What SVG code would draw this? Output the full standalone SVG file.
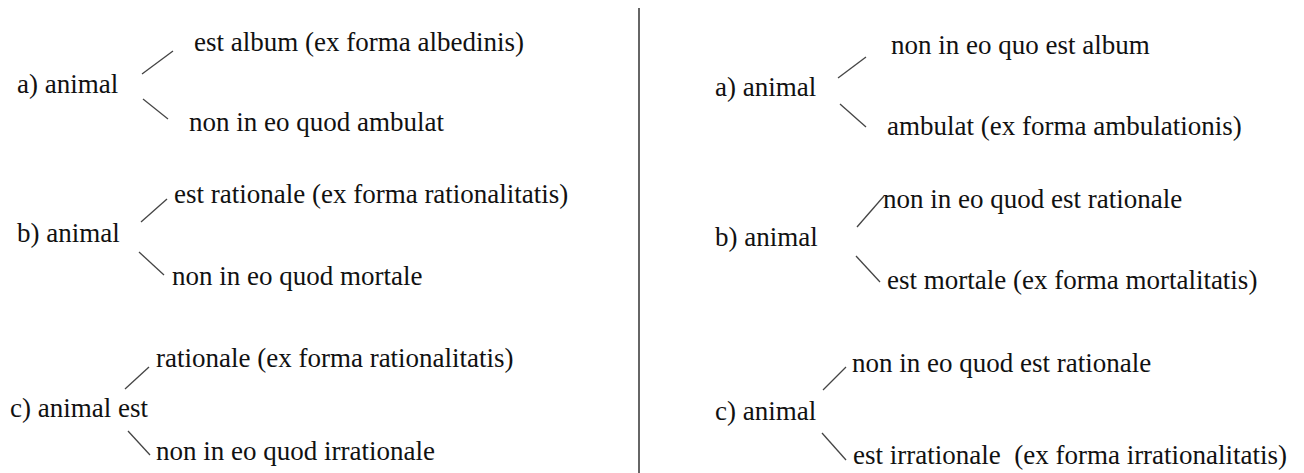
<svg xmlns="http://www.w3.org/2000/svg" width="1304" height="473" viewBox="0 0 1304 473">
<style>
text{font-family:"Liberation Serif","Times New Roman",serif;font-size:27px;fill:#111}
.c line{stroke:#444;stroke-width:1.3}
.sep{stroke:#666;stroke-width:2}
</style>
<rect width="1304" height="473" fill="#fff"/>
<line class="sep" x1="639" y1="8" x2="639" y2="473"/>
<g class="c" id="connectors">
<line x1="142" y1="74" x2="173" y2="51"/>
<line x1="143" y1="99" x2="168" y2="119"/>
<line x1="141" y1="222" x2="167" y2="199"/>
<line x1="139" y1="252" x2="164" y2="275"/>
<line x1="125" y1="389" x2="149" y2="367"/>
<line x1="128" y1="431" x2="150" y2="455"/>
<line x1="838" y1="78" x2="866" y2="57"/>
<line x1="840" y1="104" x2="866" y2="127"/>
<line x1="857" y1="227" x2="884" y2="196"/>
<line x1="856" y1="256" x2="880" y2="282"/>
<line x1="823" y1="390" x2="846" y2="367"/>
<line x1="822" y1="433" x2="846" y2="460"/>
</g>
<g id="la"><text x="17" y="93">a) animal</text></g>
<g id="la1"><text x="194" y="51">est album (ex forma albedinis)</text></g>
<g id="la2"><text x="189" y="131">non in eo quod ambulat</text></g>
<g id="lb"><text x="17" y="242">b) animal</text></g>
<g id="lb1"><text x="174" y="203">est rationale (ex forma rationalitatis)</text></g>
<g id="lb2"><text x="172" y="285">non in eo quod mortale</text></g>
<g id="lc"><text x="10" y="417">c) animal est</text></g>
<g id="lc1"><text x="156" y="367">rationale (ex forma rationalitatis)</text></g>
<g id="lc2"><text x="156" y="460">non in eo quod irrationale</text></g>
<g id="ra"><text x="715" y="96">a) animal</text></g>
<g id="ra1"><text x="891" y="54">non in eo quo est album</text></g>
<g id="ra2"><text x="887" y="135">ambulat (ex forma ambulationis)</text></g>
<g id="rb"><text x="715" y="246">b) animal</text></g>
<g id="rb1"><text x="883" y="208">non in eo quod est rationale</text></g>
<g id="rb2"><text x="887" y="289">est mortale (ex forma mortalitatis)</text></g>
<g id="rc"><text x="715" y="420">c) animal</text></g>
<g id="rc1"><text x="852" y="372">non in eo quod est rationale</text></g>
<g id="rc2"><text x="853" y="464" xml:space="preserve">est irrationale  (ex forma irrationalitatis)</text></g>
</svg>
